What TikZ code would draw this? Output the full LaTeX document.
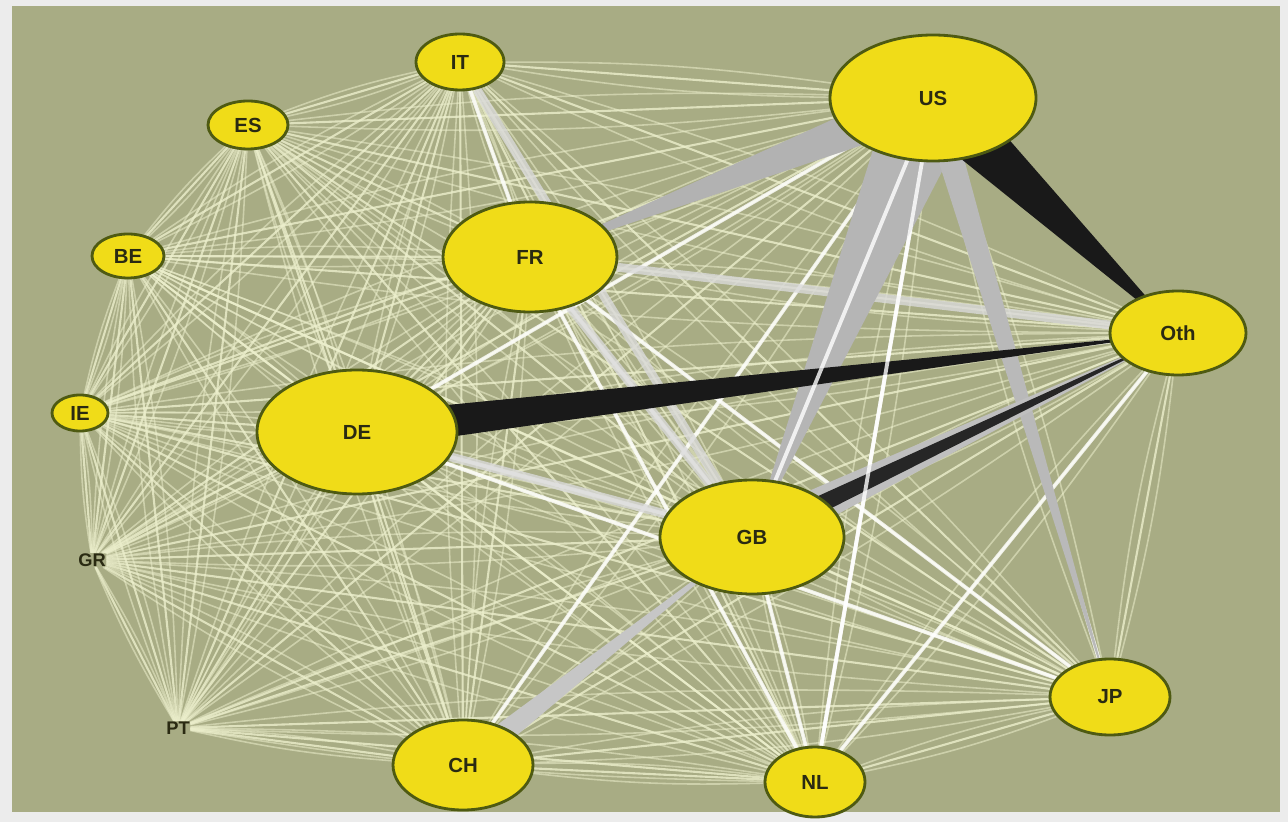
\documentclass[tikz,border=0pt]{standalone}
\usepackage{fontspec}
\setmainfont{Liberation Sans}
\usetikzlibrary{calc,backgrounds,shapes.geometric}
\definecolor{olivebg}{HTML}{A8AC84}
\definecolor{nodeyel}{HTML}{F0DC18}
\definecolor{nodeedge}{HTML}{4E5A12}
\definecolor{lite}{HTML}{ECEFCC}
\definecolor{labtxt}{HTML}{2A2A12}
\newcommand\taper[4]{\fill[#4] ($(#1)!#3!90:(#2)$) -- ($(#1)!#3!-90:(#2)$) -- (#2.center) -- cycle;}
\tikzset{
  country/.style 2 args={ellipse, draw=nodeedge, line width=0.8pt, fill=nodeyel,
    minimum width=#1*0.01cm, minimum height=#2*0.01cm, inner sep=0pt,
    text=labtxt, font=\fontsize{5.8}{6}\selectfont\bfseries},
  tiny/.style={inner sep=0pt, text=labtxt, font=\fontsize{5.2}{6}\selectfont\bfseries},
  liteedge/.style={draw=lite, line width=0.6pt, opacity=0.8},
  softedge/.style={draw=lite, line width=0.45pt, opacity=0.55},
  whiteedge/.style={draw=white, line width=1.1pt, opacity=0.8},
  grayedge/.style={draw=gray!30, line width=2.5pt, opacity=0.8}
}
\begin{document}
\begin{tikzpicture}[x=0.01cm, y=-0.01cm]
\useasboundingbox (0,0) rectangle (1288,822);
\begin{pgfonlayer}{background}
  \fill[gray!15] (0,0) rectangle (1288,822);
  \fill[olivebg] (12,6) rectangle (1280,812);
\end{pgfonlayer}

% nodes
\node[country={88}{56}] (IT) at (460,62) {IT};
\node[country={80}{48}] (ES) at (248,125) {ES};
\node[country={72}{44}] (BE) at (128,256) {BE};
\node[country={56}{36}] (IE) at (80,413) {IE};
\node[tiny] (GR) at (92,560) {GR};
\node[tiny] (PT) at (178,728) {PT};
\node[country={140}{90}] (CH) at (463,765) {CH};
\node[country={100}{70}] (NL) at (815,782) {NL};
\node[country={120}{76}] (JP) at (1110,697) {JP};
\node[country={184}{114}] (GB) at (752,537) {GB};
\node[country={136}{84}] (Oth) at (1178,333) {Oth};
\node[country={206}{126}] (US) at (933,98) {US};
\node[country={174}{110}] (FR) at (530,257) {FR};
\node[country={200}{124}] (DE) at (357,432) {DE};

\begin{pgfonlayer}{background}
  % complete graph of light edges, each pair drawn as a small bundle
  \foreach \a [count=\i] in {IT,ES,BE,IE,GR,PT,CH,NL,JP,GB,Oth,US,FR,DE} {
    \foreach \b [count=\j] in {IT,ES,BE,IE,GR,PT,CH,NL,JP,GB,Oth,US,FR,DE} {
      \ifnum\j>\i
        \draw[liteedge] (\a) -- (\b);
        \draw[softedge] (\a) to[bend left=4] (\b);
        \draw[softedge] (\a) to[bend right=4] (\b);
      \fi
    }
  }
  % brighter white edges
  \foreach \a/\b in {US/NL,US/CH,US/GB,Oth/GB,FR/NL,FR/GB,JP/DE,DE/GB,IT/FR,US/JP,Oth/NL,GB/NL,FR/JP,Oth/DE,US/DE} {
    \draw[whiteedge] (\a) -- (\b);
  }
  % medium gray edges
  \draw[grayedge] (FR) -- (GB);
  \draw[grayedge] (DE) -- (GB);
  \draw[grayedge] (Oth) -- (FR);
  \draw[grayedge] (GB) -- (IT);
  % heavy gray tapers
  \taper{US}{FR}{0.22cm}{gray!60}
  \taper{US}{GB}{0.42cm}{gray!58}
  \taper{CH}{GB}{0.12cm}{gray!45}
  \taper{US}{JP}{0.14cm}{gray!55}
  \taper{GB}{Oth}{0.20cm}{gray!50}
  % heavy black tapers
  \taper{US}{Oth}{0.30cm}{black!90}
  \taper{DE}{Oth}{0.18cm}{black!90}
  \taper{GB}{Oth}{0.10cm}{black!85}
  \draw[whiteedge] (US) -- (GB);
  \draw[whiteedge] (US) -- (NL);
\end{pgfonlayer}
\end{tikzpicture}
\end{document}
